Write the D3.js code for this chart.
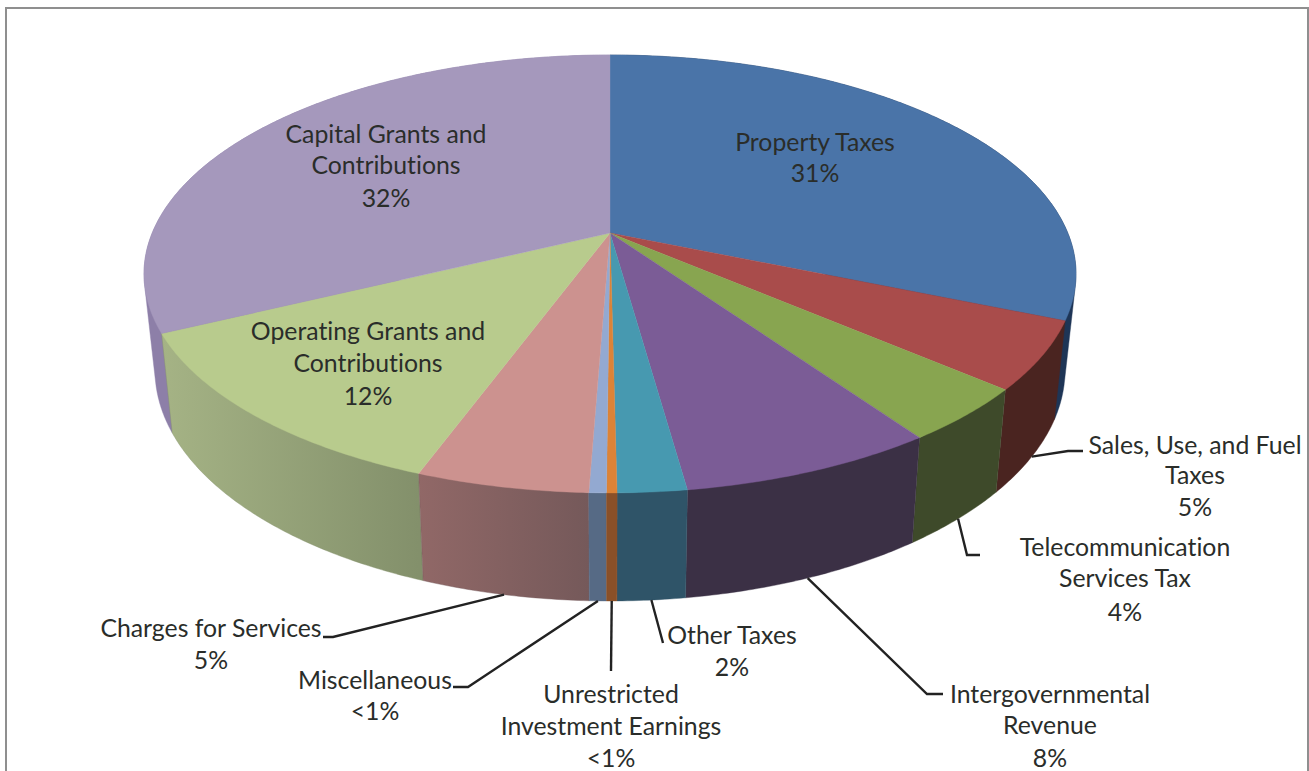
<!DOCTYPE html>
<html>
<head>
<meta charset="utf-8">
<script src="https://cdn.jsdelivr.net/npm/d3@7/dist/d3.min.js"></script>
<style>
  html, body { margin: 0; padding: 0; background: #fff; overflow: hidden; }
  svg { display: block; }
  text { font-family: Lato, "Open Sans", sans-serif; font-size: 24.8px; fill: #2a2d2a; text-anchor: middle; font-variant-ligatures: none; }
</style>
</head>
<body>
<svg id="chart" width="1309" height="771"></svg>
<script>
// Revenue shares, percent of total, clockwise from twelve o'clock
const categories = [
  "Property Taxes", "Sales, Use, and Fuel Taxes", "Telecommunication Services Tax",
  "Intergovernmental Revenue", "Other Taxes", "Unrestricted Investment Earnings",
  "Miscellaneous", "Charges for Services", "Operating Grants and Contributions",
  "Capital Grants and Contributions"
];
const shares = [31.3, 5, 4, 7.5, 2, 0.3, 0.5, 5, 12.2, 32.2];
const shareLabels = ["31%", "5%", "4%", "8%", "2%", "<1%", "<1%", "5%", "12%", "32%"];

const topColors  = ["#4a74a8", "#a94c4b", "#88a550", "#7b5c96", "#4799b0", "#dc8337", "#93a9d1", "#cc928f", "#b8cb8d", "#a598bc"];
const wallLeft   = ["#1e3556", "#4a2420", "#3e4a2a", "#3b3045", "#2f5468", "#8a5028", "#566a85", "#916867", "#a5b385", "#8d7fa8"];
const wallRight  = ["#1e3556", "#4a2420", "#3e4a2a", "#3b3045", "#2f5468", "#8a5028", "#566a85", "#75595a", "#83906b", "#8d7fa8"];

// Wrapped label text and its placement: centre x, first-line y, and the leader's bends
const labelLines = [
  ["Property Taxes"], ["Sales, Use, and Fuel", "Taxes"], ["Telecommunication", "Services Tax"],
  ["Intergovernmental", "Revenue"], ["Other Taxes"], ["Unrestricted", "Investment Earnings"],
  ["Miscellaneous"], ["Charges for Services"], ["Operating Grants and", "Contributions"],
  ["Capital Grants and", "Contributions"]
];
const labelX = [815, 1195, 1125, 1050, 732, 611, 375, 211, 368, 386];
const labelY = [141, 444, 546, 693, 634, 693, 679, 627, 330, 133];
const lineSteps = [[31], [30, 32], [31, 34], [31, 33], [32], [32, 32], [31], [32], [32, 33], [31, 33]];
const leaderBends = [
  null, [[1068, 451], [1083, 451]], [[967, 555], [980, 555]],
  [[927, 694], [943, 694]], [[663, 643]], [[611, 671]],
  [[468, 687], [453, 687]], [[333, 637], [323, 637]], null, null
];

const svg = d3.select("#chart");
const defs = svg.append("defs");

// Perspective projection of the disc; near edge sits lower and wider than the far edge
const centerX = 610, tilt = 0.187;
const topRim = { a: 457.8, b: 211.3, cy: 233 };
const baseRim = { a: 447, b: 223, cy: 326.7 };
const project = (rim, angle) => {
  const u = Math.sin(angle), v = Math.cos(angle), w = 1 + tilt * v;
  return [centerX + rim.a * u / w, rim.cy - rim.b * v / w];
};

const arcs = d3.pie().sort(null).value(d => d)(shares);
const path = d3.line();
const sweep = (rim, start, end) => {
  const n = Math.max(2, Math.ceil((end - start) / 0.01));
  return d3.range(n + 1).map(i => project(rim, start + (end - start) * i / n));
};

// Each side wall is the hull of its top and base arcs. Walls run back to front
// so nearer slices overlap the two that wrap round the rear of the disc.
const walls = svg.append("g");
const backToFront = d3.range(arcs.length).sort((p, q) =>
  d3.ascending(project(topRim, (arcs[p].startAngle + arcs[p].endAngle) / 2)[1],
               project(topRim, (arcs[q].startAngle + arcs[q].endAngle) / 2)[1]));
backToFront.forEach(i => {
  const d = arcs[i];
  const top = sweep(topRim, d.startAngle, d.endAngle);
  const base = sweep(baseRim, d.startAngle, d.endAngle);
  const frontMost = top.filter(p => p[1] > 233);
  const xs = (frontMost.length ? frontMost : top).map(p => p[0]);
  const grad = defs.append("linearGradient")
    .attr("id", "wall" + i).attr("gradientUnits", "userSpaceOnUse")
    .attr("x1", d3.min(xs)).attr("x2", d3.max(xs)).attr("y1", 0).attr("y2", 0);
  grad.append("stop").attr("offset", 0).attr("stop-color", wallLeft[i]);
  grad.append("stop").attr("offset", 1).attr("stop-color", wallRight[i]);
  walls.append("path")
    .attr("d", path(d3.polygonHull(top.concat(base))) + "Z")
    .attr("fill", `url(#wall${i})`)
    .attr("stroke", wallRight[i]).attr("stroke-width", 0.4);
});

// Top face wedges meet at the projected disc centre
const faces = svg.append("g");
arcs.forEach((d, i) => {
  const rim = sweep(topRim, d.startAngle, d.endAngle);
  faces.append("path")
    .attr("d", path([[centerX, topRim.cy], ...rim]) + "Z")
    .attr("fill", topColors[i])
    .attr("stroke", topColors[i]).attr("stroke-width", 0.4);
});

// Leader lines start on the lower rim at each slice's middle angle
const leaders = svg.append("g").attr("fill", "none").attr("stroke", "#222").attr("stroke-width", 2.4);
arcs.forEach((d, i) => {
  if (!leaderBends[i]) return;
  const start = project(baseRim, (d.startAngle + d.endAngle) / 2);
  leaders.append("path").attr("d", path([start, ...leaderBends[i]]));
});

// Category names with the percentage on the last line
const labels = svg.append("g");
categories.forEach((c, i) => {
  const lines = labelLines[i].concat(shareLabels[i]);
  let y = labelY[i];
  const t = labels.append("text").attr("dominant-baseline", "central");
  lines.forEach((line, j) => {
    t.append("tspan").attr("x", labelX[i]).attr("y", y).text(line);
    y += lineSteps[i][j] || 0;
  });
});

// Chart frame, open along the bottom edge
svg.append("path")
  .attr("d", "M6,771V8H1308V771")
  .attr("fill", "none").attr("stroke", "#8f8f8f").attr("stroke-width", 2);
</script>
</body>
</html>
